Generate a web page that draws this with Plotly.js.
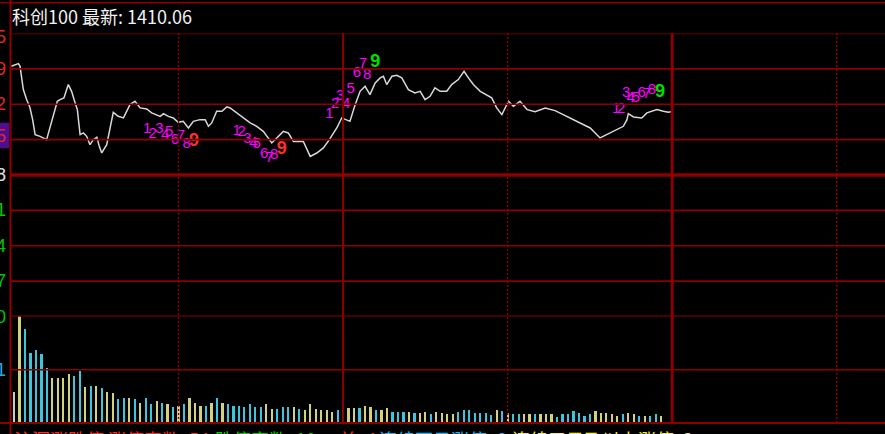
<!DOCTYPE html>
<html><head><meta charset="utf-8">
<script src="https://cdn.plot.ly/plotly-3.0.1.min.js"></script>
<style>html,body{margin:0;padding:0;background:#000;overflow:hidden}#chart{width:885px;height:434px}</style>
</head><body><div id="chart"></div>
<script>
// ---- data ----
const titleText = "科创100 最新: 1410.06";
const prevClose = 1398.08;
const priceTicks = [1424.76, 1418.09, 1411.42, 1404.75, 1398.08, 1391.41, 1384.74, 1378.07, 1371.40];
const priceTickLabels = ["1424.75", "1418.09", "1411.42", "1404.75", "1398.08", "1391.41", "1384.74", "1378.07", "1371.40"];
const volMidValue = 53.1;
const volMidLabel = "53.1";

const priceMinute = [-1.0,1.6,2.2,3.4,4.6,5.8,6.8,7.7,9.5,11.9,12.9,14.3,15.8,16.8,18.2,19.8,21.0,21.9,23.1,24.1,25.3,26.5,27.7,28.9,30.2,31.1,32.0,33.8,36.2,38.0,39.9,42.3,44.1,46.0,48.4,50.2,53.3,54.5,56.3,58.1,59.9,61.7,63.6,65.4,67.8,69.7,70.9,72.1,73.9,75.8,77.6,78.8,81.2,83.6,86.1,88.5,90.9,94.0,96.4,98.2,100.0,101.9,105.5,108.0,110.4,112.8,115.0,117.7,119.5,121.1,122.5,124.4,126.2,128.0,129.8,131.7,133.5,134.7,135.9,137.8,139.6,141.4,143.8,146.2,148.1,149.9,151.7,153.5,155.4,157.8,159.6,162.0,164.1,165.7,167.5,170.0,172.4,174.2,176.0,177.9,180.3,182.1,184.5,187.1,190.0,193.7,197.3,201.0,203.5,206.4,210.1,213.7,217.4,222.2,223.5,224.0,225.9,228.9,230.8,234.4,236.8,238.6,240.0];
const priceValue = [1418.58,1419.09,1418.58,1414.18,1412.30,1410.79,1408.52,1405.69,1405.37,1404.74,1406.63,1409.14,1411.98,1412.30,1412.62,1415.13,1413.86,1412.30,1410.41,1405.69,1406.01,1405.37,1403.80,1404.74,1405.22,1403.48,1402.23,1403.80,1409.90,1409.14,1408.84,1411.35,1411.98,1410.73,1410.54,1409.79,1409.14,1409.65,1409.14,1408.84,1408.01,1408.20,1406.95,1408.20,1408.52,1408.52,1407.26,1407.90,1410.09,1410.09,1410.92,1410.73,1409.79,1408.84,1407.90,1407.26,1406.31,1404.12,1405.37,1406.31,1406.01,1404.42,1404.42,1401.59,1402.23,1403.18,1404.74,1406.95,1408.84,1408.52,1408.20,1411.35,1413.86,1414.81,1413.24,1415.45,1416.39,1416.70,1415.13,1416.70,1416.88,1416.39,1414.18,1413.56,1413.86,1412.30,1412.92,1414.51,1413.86,1413.86,1415.13,1416.07,1417.64,1416.39,1415.13,1413.86,1413.24,1412.62,1410.73,1409.46,1411.98,1411.03,1411.98,1410.41,1410.03,1410.69,1410.22,1409.28,1408.71,1407.90,1406.95,1405.07,1406.01,1407.26,1408.52,1409.65,1409.03,1408.84,1409.79,1410.41,1410.09,1409.90,1410.06];

const volMinute = [0,2,4,6,8,10,12,14,16,18,20,22,24,26,28,30,32,34,36,38,40,42,44,46,48,50,52,54,56,58,60,62,64,66,68,70,72,74,76,78,80,82,84,86,88,90,92,94,96,98,100,102,104,106,108,110,112,114,116,118,120,122,124,126,128,130,132,134,136,138,140,142,144,146,148,150,152,154,156,158,160,162,164,166,168,170,172,174,176,178,180,182,184,186,188,190,192,194,196,198,200,202,204,206,208,210,212,214,216,218,220,222,224,226,228,230,232,234,236,238,240];
const volValue = [31.3,106.3,94,70.3,73,68.7,54.7,44.7,44.7,44.7,49,47.3,52,35.7,37,37,35.3,31.3,29.7,23.7,24.7,24.7,23.7,20.3,24.7,19,22,20.3,19,16.3,17.3,19,24.7,20.3,17.3,17.3,20.3,24.7,20.3,18.7,17.3,17.3,15.7,18.7,15.7,15.7,18.7,14,14,15.7,15.7,15.7,14,13,18.7,14,13,13,11.3,13,13,14.7,14.7,14.7,17.3,15.7,13,13,14.7,11.3,11.3,11.3,11.3,10.3,10.3,11.3,8.7,11.3,10.3,8.7,8.7,11.3,13,13,10.3,10.3,10.3,7.7,13,12,10.3,8.7,8.7,8.7,8.7,8.7,8.7,8.7,8.7,5.7,8.7,8.7,12,10.3,7,8.7,12,10.3,10.3,8.7,7,8.7,10.3,8.7,7,7,7,8.7,7,7,7];
const volKind = "wyccccc yyyyccycycyyccycyccycycycyyycycycccccccyycccycyyy yyyccyycyyc yycccycyycyyyycccccccycyccyycyyycccccccyyyyycyycycc y".replace(/ /g,"").split("");

const tdMinute = [48.6,50.6,53.0,55.1,56.6,58.7,60.9,63.0,65.6, 81.2,83.0,85.1,87.3,88.5,91.2,93.1,94.9,97.6, 115.0,117.1,118.9,121.1,122.8,125.0,127.2,128.8,131.7, 219.6,221.4,223.2,224.9,226.8,228.9,230.7,232.6,235.6];
const tdPrice = [1406.76,1405.69,1406.63,1405.50,1406.12,1404.61,1405.37,1403.80,1404.42, 1406.31,1406.12,1404.88,1403.99,1403.80,1401.91,1401.29,1401.72,1402.86, 1409.46,1411.35,1412.92,1411.35,1414.32,1417.34,1419.04,1416.83,1419.23, 1410.41,1410.41,1413.56,1412.62,1412.62,1413.56,1413.24,1414.05,1413.67];
const tdCount = ["1","2","3","4","5","6","7","8","9","1","2","3","4","5","6","7","8","9","1","2","3","4","5","6","7","8","9","1","2","3","4","5","6","7","8","9"];
const tdSide = ["d","d","d","d","d","d","d","d","d","d","d","d","d","d","d","d","d","d","u","u","u","u","u","u","u","u","u","u","u","u","u","u","u","u","u","u"];

const footParts = ["沪深涨跌停 涨停家数: 54", "跌停家数: 10", "首: 44", "连续两日涨停: 6", "连续三日及以上涨停: 2"];

// ---- geometry / style ----
const W = 885, H = 434, L = 10;
const GRID = "#8c0000";
const px2x = p => (p - L) / (W - L);
const py2y = p => (H - p) / H;

const volColorMap = {w: "#c8c8c8", y: "#d2d27e", c: "#3ec4dc"};

const traces = [];
traces.push({x: priceMinute, y: priceValue, type: "scatter", mode: "lines",
  line: {color: "#d8d8d8", width: 1.5}, xaxis: "x", yaxis: "y", hoverinfo: "skip"});
traces.push({x: volMinute, y: volValue, type: "bar", width: 0.8,
  marker: {color: volKind.map(k => volColorMap[k]), line: {width: 0}},
  xaxis: "x", yaxis: "y2", hoverinfo: "skip"});
const small = tdCount.map((c, i) => c !== "9" ? i : -1).filter(i => i >= 0);
const nines = tdCount.map((c, i) => c === "9" ? i : -1).filter(i => i >= 0);
traces.push({x: small.map(i => tdMinute[i]), y: small.map(i => tdPrice[i]), text: small.map(i => tdCount[i]),
  type: "scatter", mode: "text", textposition: "middle center",
  textfont: {family: "Liberation Sans, Arial, sans-serif", size: 15, color: "#ff00ff"},
  xaxis: "x", yaxis: "y", hoverinfo: "skip", cliponaxis: false});
traces.push({x: nines.map(i => tdMinute[i]), y: nines.map(i => tdPrice[i]), text: nines.map(i => tdCount[i]),
  type: "scatter", mode: "text", textposition: "middle center",
  textfont: {family: "Liberation Sans, Arial, sans-serif", size: 18, weight: "bold",
    color: nines.map(i => tdSide[i] === "d" ? "#ff3030" : "#00e000")},
  xaxis: "x", yaxis: "y", hoverinfo: "skip", cliponaxis: false});

const shapes = [];
const priceWidths = [1.4, 1.6, 1.6, 1.6, 3.6, 1.6, 1.6, 1.6, 2.2];
priceTicks.forEach((v, i) => shapes.push({type: "line", xref: "paper", yref: "y", x0: 0, x1: 1, y0: v, y1: v,
  line: {color: GRID, width: priceWidths[i]}}));
shapes.push({type: "line", xref: "paper", yref: "y2", x0: 0, x1: 1, y0: volMidValue, y1: volMidValue, line: {color: GRID, width: 1.6}});
shapes.push({type: "line", xref: "paper", yref: "paper", x0: px2x(0), x1: 1, y0: py2y(423), y1: py2y(423), line: {color: GRID, width: 2}});
shapes.push({type: "line", xref: "paper", yref: "paper", x0: px2x(0), x1: 1, y0: py2y(2.7), y1: py2y(2.7), line: {color: GRID, width: 1.4}});
shapes.push({type: "line", xref: "paper", yref: "paper", x0: px2x(10.5), x1: px2x(10.5), y0: 0, y1: 1, line: {color: GRID, width: 2}});
const solidMinutes = [120, 240], dotMinutes = [60, 180, 300];
solidMinutes.forEach((m, i) => shapes.push({type: "line", xref: "x", yref: "paper", x0: m, x1: m, y0: py2y(423), y1: py2y(33.5),
  line: {color: GRID, width: i === 0 ? 2 : 3}}));
dotMinutes.forEach(m => shapes.push({type: "line", xref: "x", yref: "paper", x0: m, x1: m, y0: py2y(423), y1: py2y(33.5),
  line: {color: GRID, width: 1.4, dash: "2px,2px"}}));
shapes.push({type: "rect", xref: "paper", yref: "paper", x0: px2x(-2), x1: px2x(9.3), y0: py2y(148.3), y1: py2y(122.7),
  fillcolor: "#4c0f90", line: {width: 0}, layer: "below"});

const ann = [];
const labelColors = ["#e02828","#e02828","#e02828","#e02828","#e0e0e0","#00c800","#00c800","#00c800","#00c800"];
const labelShift = [-3.5, 0, 0, 3.5, 0, 0, 0, 0, 0];
priceTicks.forEach((v, i) => ann.push({xref: "paper", yref: "y", x: px2x(8.2), y: v, xanchor: "right", yanchor: "middle",
  text: priceTickLabels[i], showarrow: false, yshift: labelShift[i],
  font: {family: "Liberation Sans, Arial, sans-serif", size: 18, color: labelColors[i]}}));
ann.push({xref: "paper", yref: "y2", x: px2x(8.2), y: volMidValue, xanchor: "right", yanchor: "middle",
  text: volMidLabel, showarrow: false, font: {family: "Liberation Sans, Arial, sans-serif", size: 18, color: "#2aa8e8"}});
const footX = [12, 213, 337, 377, 510];
const footColors = ["#ff2a2a", "#00d000", "#ff2a2a", "#20b8f0", "#f0f040"];
footParts.forEach((t, i) => ann.push({xref: "paper", yref: "paper", x: px2x(footX[i]), y: py2y(423.5), xanchor: "left", yanchor: "top",
  text: t, showarrow: false, font: {family: "Noto Sans CJK SC, sans-serif", size: 18, color: footColors[i]}}));

const layout = {
  width: W, height: H, margin: {l: L, r: 0, t: 0, b: 0, pad: 0},
  paper_bgcolor: "#000", plot_bgcolor: "#000", showlegend: false,
  title: {text: titleText, x: 12 / W, xref: "container", xanchor: "left", y: 1 - 17.5 / H, yref: "container", yanchor: "middle",
    font: {family: "Noto Sans CJK SC, sans-serif", size: 18, color: "#f2f2f2"}},
  xaxis: {range: [-1.46, 317.6], visible: false, fixedrange: true},
  yaxis: {domain: [py2y(316.5), py2y(33.5)], range: [1371.40, 1424.76], visible: false, fixedrange: true},
  yaxis2: {domain: [py2y(423), py2y(316.5)], range: [0, 106.2], visible: false, fixedrange: true},
  shapes: shapes, annotations: ann, bargap: 0
};
Plotly.newPlot("chart", traces, layout, {staticPlot: true, displayModeBar: false});
</script>
</body></html>
